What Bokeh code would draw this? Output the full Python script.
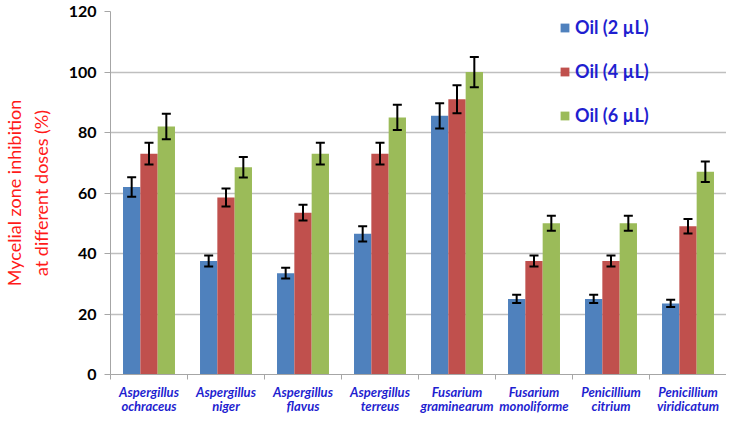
from bokeh.plotting import figure
from bokeh.models import (ColumnDataSource, Whisker, TeeHead, FixedTicker, Range1d,
                          Legend, LegendItem)
from bokeh.embed import file_html
from bokeh.resources import INLINE

categories = ["Aspergillus\nochraceus", "Aspergillus\nniger", "Aspergillus\nflavus",
              "Aspergillus\nterreus", "Fusarium\ngraminearum", "Fusarium\nmonoliforme",
              "Penicillium\ncitrium", "Penicillium\nviridicatum"]
series_names = ["Oil (2 \u00b5L)", "Oil (4 \u00b5L)", "Oil (6 \u00b5L)"]
oil2 = [62, 37.5, 33.5, 46.5, 85.5, 25, 25, 23.5]
oil4 = [73, 58.5, 53.5, 73, 91, 37.5, 37.5, 49]
oil6 = [82, 68.5, 73, 85, 100, 50, 50, 67]
err2 = [3.2, 1.8, 1.8, 2.5, 4.2, 1.4, 1.4, 1.2]
err4 = [3.6, 3.0, 2.6, 3.6, 4.6, 1.8, 1.8, 2.4]
err6 = [4.2, 3.4, 3.6, 4.2, 5.0, 2.5, 2.5, 3.4]
y_ticks = [0, 20, 40, 60, 80, 100, 120]

colors = ["#4F81BD", "#C0504D", "#9BBB59"]
offsets = [-0.225, 0.0, 0.225]
bar_w = 0.225

p = figure(width=726, height=416, output_backend="svg", toolbar_location=None,
           x_range=Range1d(0, len(categories)), y_range=Range1d(0, 120),
           min_border_left=92, min_border_right=0, min_border_top=11, min_border_bottom=0)
p.outline_line_color = None
p.background_fill_color = "white"
p.border_fill_color = "white"

renderers = []
for vals, errs, col, off in zip([oil2, oil4, oil6], [err2, err4, err6], colors, offsets):
    xs = [i + 0.5 + off for i in range(len(categories))]
    src = ColumnDataSource(dict(x=xs, top=vals,
                                upper=[v + e for v, e in zip(vals, errs)],
                                lower=[v - e for v, e in zip(vals, errs)]))
    r = p.vbar(x="x", top="top", width=bar_w, bottom=0, source=src,
               fill_color=col, line_color=None)
    renderers.append(r)
    w = Whisker(source=src, base="x", upper="upper", lower="lower", level="overlay",
                line_color="black", line_width=2,
                upper_head=TeeHead(size=9, line_color="black", line_width=2),
                lower_head=TeeHead(size=9, line_color="black", line_width=2))
    p.add_layout(w)

# Y axis
p.yaxis.ticker = FixedTicker(ticks=y_ticks)
p.yaxis.major_label_text_font = "Lato"
p.yaxis.major_label_text_font_style = "bold"
p.yaxis.major_label_text_font_size = "16px"
p.yaxis.major_label_text_color = "black"
p.yaxis.axis_line_color = "#a6a6a6"
p.yaxis.major_tick_line_color = "#a6a6a6"
p.yaxis.major_tick_out = 6
p.yaxis.major_tick_in = 0
p.yaxis.minor_tick_line_color = None
p.yaxis.major_label_standoff = 8
p.yaxis.axis_label = "Mycelial zone inhibition\nat different doses (%)"
p.yaxis.axis_label_text_font = "Lato"
p.yaxis.axis_label_text_font_style = "normal"
p.yaxis.axis_label_text_font_size = "18px"
p.yaxis.axis_label_text_color = "#ff1a1a"
p.yaxis.axis_label_standoff = 14

# X axis
centers = [i + 0.5 for i in range(len(categories))]
p.xaxis.ticker = FixedTicker(ticks=centers, minor_ticks=list(range(len(categories) + 1)))
p.xaxis.major_label_overrides = {c: lab for c, lab in zip(centers, categories)}
p.xaxis.major_label_text_font = "Lato"
p.xaxis.major_label_text_font_style = "bold italic"
p.xaxis.major_label_text_font_size = "13px"
p.xaxis.major_label_text_line_height = 0.9
p.xaxis.major_label_text_color = "#1f1fd0"
p.xaxis.major_tick_line_color = None
p.xaxis.minor_tick_line_color = "#a6a6a6"
p.xaxis.minor_tick_out = 5
p.xaxis.minor_tick_in = 0
p.xaxis.axis_line_color = "#a6a6a6"
p.xaxis.major_label_standoff = 3

p.xgrid.grid_line_color = None
p.ygrid.ticker = FixedTicker(ticks=y_ticks)
p.ygrid.grid_line_color = "#bfbfbf"
p.ygrid.grid_line_width = 1.3

legend = Legend(items=[LegendItem(label=n, renderers=[r]) for n, r in zip(series_names, renderers)],
                location=(449, 248), orientation="vertical",
                background_fill_alpha=0, border_line_color=None,
                glyph_width=11, glyph_height=11, label_height=20, spacing=22,
                padding=0, margin=0, label_standoff=5,
                label_text_font="Lato", label_text_font_style="bold",
                label_text_font_size="18px", label_text_color="#1f1fd0")
p.add_layout(legend)

open("out.html", "w").write(file_html(p, INLINE))
